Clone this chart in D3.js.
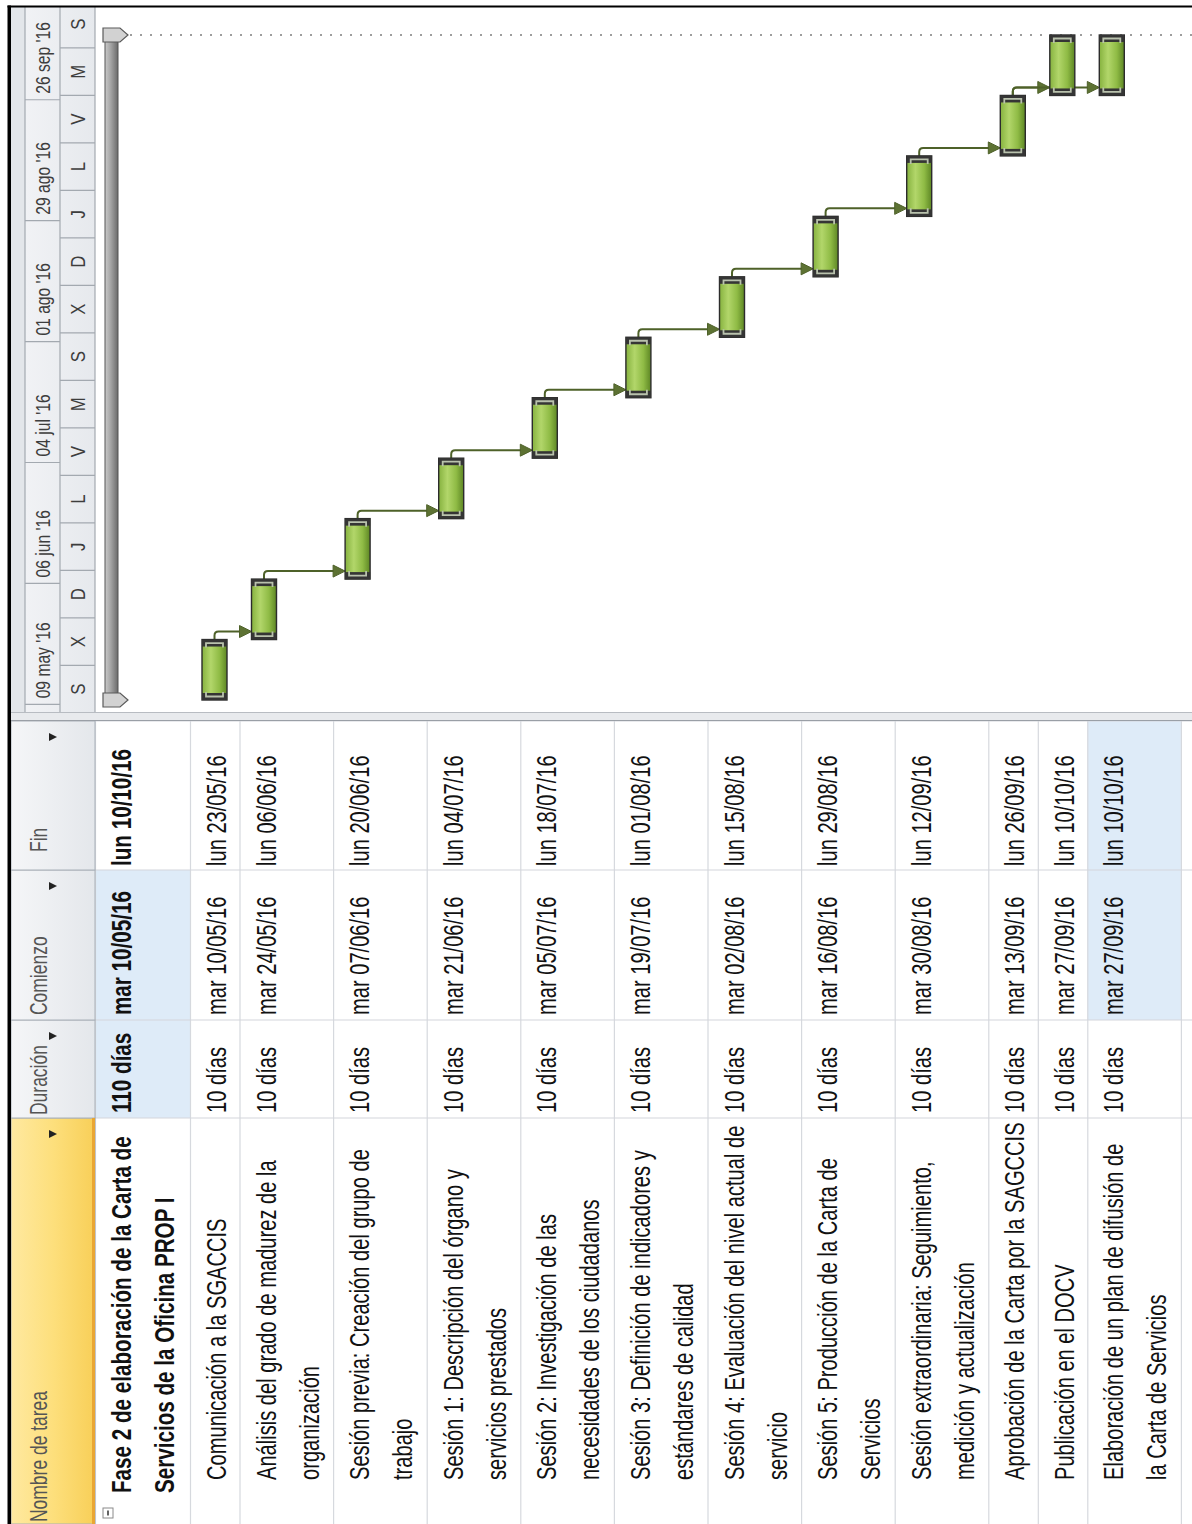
<!DOCTYPE html>
<html><head><meta charset="utf-8">
<script src="https://cdn.jsdelivr.net/npm/d3@7"></script>
<style>html,body{margin:0;padding:0;background:#fff;}svg{display:block}</style>
</head><body>
<script>
// ---------------- DATA ----------------
const columnHeaders = ["Nombre de tarea", "Duración", "Comienzo", "Fin"];
const taskNames = [
  "Fase 2 de elaboración de la Carta de\nServicios de la Oficina PROP I",
  "Comunicación a la SGACCIS",
  "Análisis del grado de madurez de la\norganización",
  "Sesión previa: Creación del grupo de\ntrabajo",
  "Sesión 1: Descripción del órgano y\nservicios prestados",
  "Sesión 2: Investigación de las\nnecesidades de los ciudadanos",
  "Sesión 3: Definición de indicadores y\nestándares de calidad",
  "Sesión 4: Evaluación del nivel actual de\nservicio",
  "Sesión 5: Producción de la Carta de\nServicios",
  "Sesión extraordinaria: Seguimiento,\nmedición y actualización",
  "Aprobación de la Carta por la SAGCCIS",
  "Publicación en el DOCV",
  "Elaboración de un plan de difusión de\nla Carta de Servicios"
];
const durationLabels = ["110 días","10 días","10 días","10 días","10 días","10 días","10 días","10 días","10 días","10 días","10 días","10 días","10 días"];
const startLabels = ["mar 10/05/16","mar 10/05/16","mar 24/05/16","mar 07/06/16","mar 21/06/16","mar 05/07/16","mar 19/07/16","mar 02/08/16","mar 16/08/16","mar 30/08/16","mar 13/09/16","mar 27/09/16","mar 27/09/16"];
const finishLabels = ["lun 10/10/16","lun 23/05/16","lun 06/06/16","lun 20/06/16","lun 04/07/16","lun 18/07/16","lun 01/08/16","lun 15/08/16","lun 29/08/16","lun 12/09/16","lun 26/09/16","lun 10/10/16","lun 10/10/16"];
const startDates = ["2016-05-10","2016-05-10","2016-05-24","2016-06-07","2016-06-21","2016-07-05","2016-07-19","2016-08-02","2016-08-16","2016-08-30","2016-09-13","2016-09-27","2016-09-27"];
const finishDates = ["2016-10-10","2016-05-23","2016-06-06","2016-06-20","2016-07-04","2016-07-18","2016-08-01","2016-08-15","2016-08-29","2016-09-12","2016-09-26","2016-10-10","2016-10-10"];
const predecessors = [null, null, 1, 2, 3, 4, 5, 6, 7, 8, 9, 10, 10];
const topTierStarts = ["2016-05-09","2016-06-06","2016-07-04","2016-08-01","2016-08-29","2016-09-26"];
const topTierLabels = ["09 may '16","06 jun '16","04 jul '16","01 ago '16","29 ago '16","26 sep '16"];
const bottomTierStarts = ["2016-05-07","2016-05-18","2016-05-29","2016-06-09","2016-06-20","2016-07-01","2016-07-12","2016-07-23","2016-08-03","2016-08-14","2016-08-25","2016-09-05","2016-09-16","2016-09-27","2016-10-08","2016-10-19"];
const bottomTierLabels = ["S","X","D","J","L","V","M","S","X","D","J","L","V","M","S"];
const highlightCells = [[0,1],[0,2],[12,2],[12,3]]; // [row, column] shaded cells

// ---------------- LAYOUT ----------------
const W = 1192, H = 1524;
const FONT = "'Liberation Sans', Arial, sans-serif";
const colEdges = [0, 406, 504, 654, 803];
const splitEnd = 812, paneEnd = 1517;
const headTop = 11, headBottom = 95;
const tierA = 25, tierB = 60;
const parse = d3.utcParse("%Y-%m-%d");
const dayMs = 864e5;

const svg = d3.select("body").append("svg").attr("width", W).attr("height", H);
const defs = svg.append("defs");

function grad(id, stops, vertical) {
  const g = defs.append("linearGradient").attr("id", id)
    .attr("x1", 0).attr("y1", 0).attr("x2", vertical ? 0 : 1).attr("y2", vertical ? 1 : 0);
  stops.forEach(([o, c]) => g.append("stop").attr("offset", o).attr("stop-color", c));
}
grad("barG", [[0, "#86b23f"], [0.35, "#b2d66a"], [0.7, "#8fbb45"], [1, "#5d8624"]], true);
grad("sumG", [[0, "#c9c9c9"], [0.4, "#a8a8a8"], [1, "#6a6a6a"]], true);
grad("hdrG", [[0, "#f5f6f8"], [1, "#e4e7eb"]], true);
grad("yelG", [[0, "#ffe9a0"], [0.5, "#fddf7c"], [1, "#f8cf58"]], true);
grad("tsG", [[0, "#f1f2f5"], [1, "#e6e9ed"]], true);

// rotated frame: u along the original horizontal, v along the original vertical
const root = svg.append("g").attr("transform", `translate(0,${H}) rotate(-90)`);

function txt(g, u, v, s, size, k, weight, fill, anchor) {
  return g.append("text")
    .attr("transform", `translate(${u},${v}) scale(${k},1)`)
    .attr("font-family", FONT).attr("font-size", size)
    .attr("font-weight", weight || "normal").attr("fill", fill || "#111")
    .attr("text-anchor", anchor || "start").text(s);
}

// rows
const lines = taskNames.map(s => s.split("\n"));
const rowH = lines.map((l, i) => i === 0 ? 95 : (l.length > 1 ? 93.6 : 49.5));
const rowTop = [];
rowH.reduce((acc, h, i) => { rowTop[i] = acc; return acc + h; }, headBottom);
const tableEnd = rowTop[rowTop.length - 1] + rowH[rowH.length - 1];

// ---------------- TABLE ----------------
const table = root.append("g");
table.append("rect").attr("x", 0).attr("y", headTop).attr("width", colEdges[4]).attr("height", W - headTop).attr("fill", "#fff");
highlightCells.forEach(([r, c]) => {
  table.append("rect").attr("x", colEdges[c]).attr("y", rowTop[r])
    .attr("width", colEdges[c + 1] - colEdges[c]).attr("height", rowH[r]).attr("fill", "#deebf8");
});
rowTop.concat([tableEnd]).forEach(t => {
  table.append("line").attr("x1", 0).attr("x2", colEdges[4]).attr("y1", t + 0.5).attr("y2", t + 0.5)
    .attr("stroke", "#d6d9de").attr("stroke-width", 1.2);
});
colEdges.slice(1).forEach(u => {
  table.append("line").attr("x1", u).attr("x2", u).attr("y1", headBottom).attr("y2", W)
    .attr("stroke", "#d3d6db").attr("stroke-width", 1.2);
});
// header
columnHeaders.forEach((h, c) => {
  table.append("rect").attr("x", colEdges[c]).attr("y", headTop)
    .attr("width", colEdges[c + 1] - colEdges[c]).attr("height", headBottom - headTop)
    .attr("fill", c === 0 ? "url(#yelG)" : "url(#hdrG)").attr("stroke", "#a9b0b8").attr("stroke-width", 1);
});
table.append("line").attr("x1", colEdges[0]).attr("x2", colEdges[1]).attr("y1", headBottom - 1.5).attr("y2", headBottom - 1.5)
  .attr("stroke", "#e9a634").attr("stroke-width", 3);
defs.append("clipPath").attr("id", "durClip").append("rect")
  .attr("x", colEdges[1]).attr("y", headTop).attr("width", 73).attr("height", headBottom - headTop);
const hdrOffset = [2, 3, 5, 18];
columnHeaders.forEach((h, c) => {
  const holder = table.append("g");
  if (c === 1) holder.attr("clip-path", "url(#durClip)");
  txt(holder, colEdges[c] + hdrOffset[c], 47, h, 23, 0.76, "normal", "#555");
  const uc = colEdges[c + 1] - 16;
  table.append("path").attr("d", `M${uc - 4},49L${uc + 4},49L${uc},57Z`).attr("fill", "#222");
});
// collapse box
table.append("rect").attr("x", 6).attr("y", 103).attr("width", 10).attr("height", 10)
  .attr("fill", "#fff").attr("stroke", "#8a8a8a");
table.append("line").attr("x1", 8.5).attr("x2", 13.5).attr("y1", 108).attr("y2", 108).attr("stroke", "#222").attr("stroke-width", 1.4);

// cells
lines.forEach((ls, i) => {
  const bold = i === 0;
  const size = 27, k = bold ? 0.765 : 0.745, w = bold ? "bold" : "normal";
  const base = rowTop[i] + 36;
  const uName = bold ? 31 : 44;
  ls.forEach((l, j) => txt(table, uName, base + j * 43, l, size, k, w, "#111"));
  txt(table, colEdges[1] + 5, base, durationLabels[i], size, k, w, "#111");
  txt(table, colEdges[2] + 5, base, startLabels[i], size, k, w, "#111");
  txt(table, colEdges[3] + 4, base, finishLabels[i], size, k, w, "#111");
});

// splitter
root.append("rect").attr("x", colEdges[4]).attr("y", headTop).attr("width", splitEnd - colEdges[4]).attr("height", W - headTop)
  .attr("fill", "#e8eaed");
root.append("line").attr("x1", colEdges[4] + 0.5).attr("x2", colEdges[4] + 0.5).attr("y1", headTop).attr("y2", W).attr("stroke", "#9a9fa6");
root.append("line").attr("x1", splitEnd - 0.5).attr("x2", splitEnd - 0.5).attr("y1", headTop).attr("y2", W).attr("stroke", "#b8bcc2");

// ---------------- GANTT ----------------
const x = d3.scaleUtc().domain([parse("2016-05-10"), parse("2016-10-11")]).range([824, 1489]);
defs.append("clipPath").attr("id", "paneClip").append("rect")
  .attr("x", splitEnd).attr("y", 0).attr("width", paneEnd - splitEnd).attr("height", W);
const pane = root.append("g").attr("clip-path", "url(#paneClip)");
pane.append("rect").attr("x", splitEnd).attr("y", headTop).attr("width", paneEnd - splitEnd).attr("height", W - headTop).attr("fill", "#fff");

// timescale
pane.append("rect").attr("x", splitEnd).attr("y", headTop).attr("width", paneEnd - splitEnd).attr("height", tierA - headTop).attr("fill", "#e3e6ea");
pane.append("rect").attr("x", splitEnd).attr("y", tierA).attr("width", paneEnd - splitEnd).attr("height", headBottom - tierA).attr("fill", "url(#tsG)");
[tierA, tierB, headBottom].forEach(v => pane.append("line").attr("x1", splitEnd).attr("x2", paneEnd)
  .attr("y1", v).attr("y2", v).attr("stroke", "#a3a9b0").attr("stroke-width", 1.2));
const topD = topTierStarts.map(parse);
topD.forEach((d, i) => {
  const u = x(d);
  pane.append("line").attr("x1", u).attr("x2", u).attr("y1", tierA).attr("y2", tierB).attr("stroke", "#a3a9b0").attr("stroke-width", 1.2);
  txt(pane, u + 6, 50, topTierLabels[i], 21, 0.745, "normal", "#3d3d3d");
});
const botD = bottomTierStarts.map(parse);
botD.forEach((d, i) => {
  const u = x(d);
  pane.append("line").attr("x1", u).attr("x2", u).attr("y1", tierB).attr("y2", headBottom).attr("stroke", "#a3a9b0").attr("stroke-width", 1.2);
  if (i < bottomTierLabels.length) {
    const uc = (u + x(botD[i + 1])) / 2;
    txt(pane, uc, 85, bottomTierLabels[i], 21, 0.8, "normal", "#3d3d3d", "middle");
  }
});

// project finish dotted line
const endU = x(new Date(parse(finishDates[0]).getTime() + dayMs));
pane.append("line").attr("x1", endU).attr("x2", endU).attr("y1", 120).attr("y2", W)
  .attr("stroke", "#7d7d7d").attr("stroke-width", 1.6).attr("stroke-dasharray", "2,8");

// summary bar
const s0 = x(parse(startDates[0])), s1 = endU;
pane.append("rect").attr("x", s0).attr("y", 105).attr("width", s1 - s0).attr("height", 13)
  .attr("fill", "url(#sumG)").attr("stroke", "#555").attr("stroke-width", 1);
[s0, s1].forEach(uc => {
  pane.append("path").attr("d", `M${uc - 7},103L${uc + 7},103L${uc + 7},120L${uc},128L${uc - 7},120Z`)
    .attr("fill", "#d2d2d2").attr("stroke", "#5a5a5a").attr("stroke-width", 1.2);
});

// task bar geometry
const barTop = i => rowTop[i] + 12, barH = 25;
const uStart = i => x(parse(startDates[i]));
const uEnd = i => x(new Date(parse(finishDates[i]).getTime() + dayMs));

// links (under bars)
const linkCol = "#4e6129";
predecessors.forEach((p, i) => {
  if (p === null) return;
  const ue = uEnd(p), vc = barTop(p) + barH / 2;
  const ut = uStart(i) + 8, vt = barTop(i);
  const r = 4;
  pane.append("path")
    .attr("d", `M${ue},${vc}L${ut - r},${vc}Q${ut},${vc} ${ut},${vc + r}L${ut},${vt - 10}`)
    .attr("fill", "none").attr("stroke", linkCol).attr("stroke-width", 2);
  pane.append("path").attr("d", `M${ut - 6},${vt - 12}L${ut + 6},${vt - 12}L${ut},${vt}Z`)
    .attr("fill", "#5d7233").attr("stroke", linkCol).attr("stroke-width", 1);
});

// bars
d3.range(1, taskNames.length).forEach(i => {
  const u0 = uStart(i), u1 = uEnd(i), v = barTop(i);
  const g = pane.append("g");
  g.append("rect").attr("x", u0).attr("y", v).attr("width", u1 - u0).attr("height", barH)
    .attr("fill", "url(#barG)").attr("stroke", "#2c2c2c").attr("stroke-width", 1.4);
  const cap = 7;
  g.append("rect").attr("x", u0).attr("y", v).attr("width", cap).attr("height", barH).attr("fill", "#353535");
  g.append("rect").attr("x", u1 - cap).attr("y", v).attr("width", cap).attr("height", barH).attr("fill", "#353535");
  g.append("path").attr("d", `M${u0 + 8},${v + 4}L${u0 + 3.5},${v + 4}L${u0 + 3.5},${v + barH - 4}L${u0 + 8},${v + barH - 4}`)
    .attr("fill", "none").attr("stroke", "#b9c2ad").attr("stroke-width", 1.8);
  g.append("path").attr("d", `M${u1 - 8},${v + 4}L${u1 - 3.5},${v + 4}L${u1 - 3.5},${v + barH - 4}L${u1 - 8},${v + barH - 4}`)
    .attr("fill", "none").attr("stroke", "#b9c2ad").attr("stroke-width", 1.8);
});

// ---------------- FRAME ----------------
root.append("rect").attr("x", 0).attr("y", 7.5).attr("width", 1518.5).attr("height", 3.5).attr("fill", "#000");
root.append("rect").attr("x", 1516.5).attr("y", 7.5).attr("width", 2).attr("height", W - 7.5).attr("fill", "#000");
</script>
</body></html>
